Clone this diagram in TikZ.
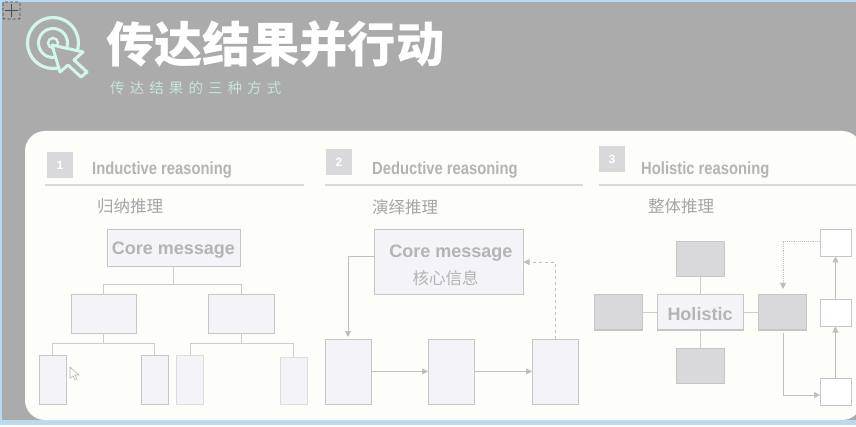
\documentclass[tikz,border=0pt]{standalone}
\usepackage{fontspec}
\setmainfont{Liberation Sans}
\newfontfamily\cjkfont{Noto Sans CJK SC}
\newfontfamily\subfont[LetterSpace=35]{Noto Sans CJK SC}
\newfontfamily\headfont[FakeStretch=0.84]{Liberation Sans}
\usetikzlibrary{positioning,arrows.meta}
\definecolor{bgGray}{HTML}{ABABAB}
\definecolor{stripBlue}{HTML}{BBDAEF}
\definecolor{panelWhite}{HTML}{FDFDF9}
\definecolor{mint}{HTML}{D0F7EA}
\definecolor{cardFill}{HTML}{F3F3F8}
\definecolor{cardLine}{HTML}{C6C6C9}
\definecolor{darkFill}{HTML}{D9D9DC}
\definecolor{inkGray}{HTML}{B4B4B6}
\definecolor{linkGray}{HTML}{CDCDCD}
\begin{document}
\begin{tikzpicture}[
        x=1pt, y=-1pt,
        >={Triangle[length=6pt, width=6pt]},
        card/.style={rectangle, draw=cardLine, fill=cardFill, line width=1pt, inner sep=0pt, outer sep=0pt, align=center, text=inkGray, font=\bfseries\fontsize{18}{21}\selectfont},
        faint/.style={card, draw=linkGray!70},
        grayblock/.style={card, fill=darkFill, minimum width=48pt, minimum height=35pt},
        small/.style={card, fill=white, minimum width=31pt, minimum height=27pt},
        badge/.style={rectangle, fill=darkFill, minimum size=26pt, inner sep=0pt, text=white, font=\bfseries\fontsize{12}{14}\selectfont},
        heading/.style={inner sep=0pt, anchor=west, text=inkGray, font=\headfont\bfseries\fontsize{17.6}{20}\selectfont},
        cnlabel/.style={inner sep=0pt, anchor=west, text=inkGray!92!black, font=\cjkfont\fontsize{16.5}{20}\selectfont},
        rulel/.style={draw=darkFill, line width=1.2pt},
        link/.style={draw=linkGray, line width=0.9pt},
        arrow/.style={link, ->, color=inkGray!85}
    ]
    \useasboundingbox (0,0) rectangle (856,427);
    \fill[stripBlue] (0,0) rectangle (856,425);
    \fill[bgGray] (2,2) rectangle (856,420);
    \fill[white] (0,425) rectangle (856,427);
    \fill[panelWhite, rounded corners=20pt] (25,131) rectangle (862,420);

    % title block
    \draw[mint, line width=3.2pt] (53,43) circle (25.5);
    \draw[mint, line width=3pt] (53,43) circle (14.5);
    \draw[mint, line width=2.4pt] (53,43) circle (5);
    \draw[mint, fill=bgGray, line width=3pt, line join=round] (52,45) -- (83,52) -- (74,60) -- (87,72) -- (81,77) -- (68,65) -- (60,72) -- cycle;
    \node[inner sep=0pt, anchor=west, text=white, font=\cjkfont\bfseries\fontsize{48.3}{50}\selectfont] (title) at (106,44) {传达结果并行动};
    \node[inner sep=0pt, anchor=west, text=mint!75!bgGray, font=\subfont\fontsize{14.5}{16}\selectfont] (subtitle) at (110,88) {传达结果的三种方式};

    % section 1
    \node[badge] (b1) at (60,165) {1};
    \node[heading] (h1) at (92,170) {Inductive reasoning};
    \draw[rulel] (45,185) -- (304,185);
    \node[cnlabel] (c1) at (97,206) {归纳推理};
    \node[card, minimum width=133pt, minimum height=37pt, text height=17pt, text depth=4pt] (core) at (173.5,248.5) {Core message};
    \node[card, minimum width=65pt, minimum height=38pt, below=28pt of core, xshift=-70pt] (lb) {};
    \node[card, minimum width=66pt, minimum height=38pt, below=28pt of core, xshift=67.5pt] (rb) {};
    \node[card, minimum width=27pt, minimum height=49pt, below=22pt of lb, xshift=-51pt] (l1) {};
    \node[card, minimum width=27pt, minimum height=49pt, below=22pt of lb, xshift=51pt] (l2) {};
    \node[faint, minimum width=27pt, minimum height=49pt, below=22pt of rb, xshift=-51pt] (l3) {};
    \node[faint, minimum width=27pt, minimum height=47pt, below=24pt of rb, xshift=52.5pt] (l4) {};

    \draw[link] (core.south) -- ++(0,17) -| (lb.north);
    \draw[link] (core.south) -- ++(0,17) -| (rb.north);
    \draw[link] (lb.south) -- ++(0,10) -| (l1.north);
    \draw[link] (lb.south) -- ++(0,10) -| (l2.north);
    \draw[link] (rb.south) -- ++(0,10) -| (l3.north);
    \draw[link] (rb.south) -- ++(0,10) -| (l4.north);

    % section 2
    \node[badge] (b2) at (339,162) {2};
    \node[heading] (h2) at (372,170) {Deductive reasoning};
    \draw[rulel] (325,185) -- (583,185);
    \node[cnlabel] (c2) at (372,207) {演绎推理};
    \node[card, minimum width=149pt, minimum height=65pt] (msg) at (449,262) {\rule{0pt}{19pt}\hspace*{4pt}Core message\\[6pt]{\cjkfont\mdseries\fontsize{16.5}{20}\selectfont\hspace*{-7pt}核心信息}};
    \node[card, minimum width=46pt, minimum height=65pt] (d1) at (348,371.5) {};
    \node[card, minimum width=46pt, minimum height=65pt, right=57pt of d1] (d2) {};
    \node[card, minimum width=46pt, minimum height=65pt, right=58pt of d2] (d3) {};

    \draw[arrow] ([yshift=6pt]msg.west) -| ([yshift=2pt]d1.north);
    \draw[arrow] (d1) -- (d2);
    \draw[arrow] (d2) -- (d3);
    \draw[arrow, dashed] (d3.north) |- (msg.east);

    % section 3
    \node[badge] (b3) at (612,159.5) {3};
    \node[heading] (h3) at (641,170) {Holistic reasoning};
    \draw[rulel] (599,185) -- (856,185);
    \node[cnlabel] (c3) at (648,206) {整体推理};
    \node[card, minimum width=86pt, minimum height=35pt, text height=18pt, text depth=3pt] (holistic) at (700,312.5) {Holistic};
    \node[grayblock, above=18pt of holistic] (top) {};
    \node[grayblock, below=18pt of holistic] (bot) {};
    \node[grayblock, left=15pt of holistic] (west) {};
    \node[grayblock, right=15pt of holistic] (east) {};
    \node[small] (s3) at (835.5,392) {};
    \node[small, above=52pt of s3] (s2) {};
    \node[small, above=43pt of s2] (s1) {};

    \draw[link] (holistic) -- (top);
    \draw[link] (holistic) -- (bot);
    \draw[link] (holistic) -- (west);
    \draw[link] (holistic) -- (east);
    \draw[arrow] (s3) -- (s2);
    \draw[arrow] (s2) -- (s1);
    \draw[arrow, densely dotted] ([yshift=2pt]s1.west) -| ([xshift=1pt,yshift=6pt]east.north);
    \draw[arrow] ([xshift=1pt,yshift=-3pt]east.south) |- ([yshift=-3pt]s3.west);

    % pointer marks left on the capture
    \draw[black!70, densely dashed, line width=0.8pt, rounded corners=1pt] (3,2) rectangle (20,19);
    \draw[black!70, line width=0.8pt] (11.5,4) -- (11.5,17) (5,10.5) -- (18,10.5);
    \draw[inkGray, fill=white, line width=0.6pt] (70,367) -- (70,378) -- (73,376) -- (75,380) -- (77,379) -- (75,375) -- (79,375) -- cycle;
\end{tikzpicture}
\end{document}
